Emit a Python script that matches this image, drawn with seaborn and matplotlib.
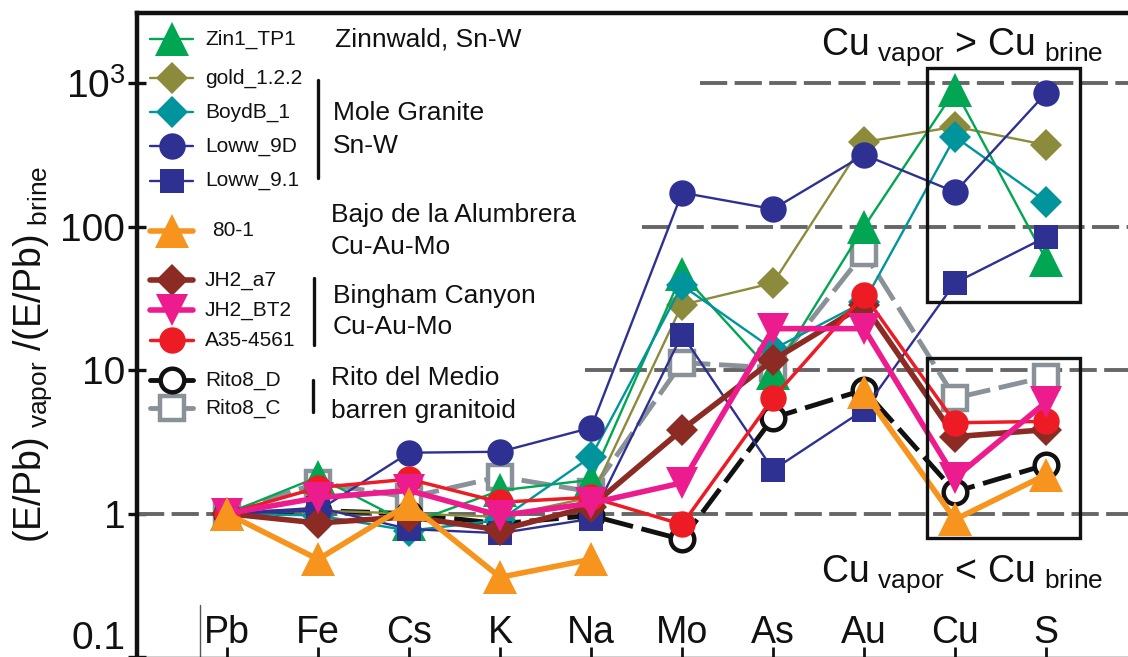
import numpy as np
import seaborn as sns
import matplotlib.pyplot as plt
from matplotlib.lines import Line2D
from matplotlib.patches import Rectangle
from matplotlib.ticker import NullLocator

elements = ['Pb', 'Fe', 'Cs', 'K', 'Na', 'Mo', 'As', 'Au', 'Cu', 'S']

zin1_tp1 = [1, 1.8, 0.85, 1.45, 1.72, 47, 9.5, 100, 900, 59]
gold_122 = [1, 1.05, 1.0, 0.95, 1.3, 28.6, 40.6, 390, 500, 372]
boydb_1 = [1, 0.97, 0.76, 0.9, 2.5, 39, 14, 30, 424, 150]
loww_9d = [1, 1.05, 2.66, 2.7, 3.97, 173, 133, 318, 175, 857]
loww_91 = [1, 1.1, 0.78, 0.73, 0.92, 17.7, 2.02, 5.3, 40.7, 85]
s80_1 = [1, 0.48, 1.17, 0.36, 0.48, np.nan, np.nan, 7.0, 0.91, 1.87]
jh2_a7 = [1, 0.86, 0.95, 0.77, 1.12, 3.85, 11.8, 28.6, 3.44, 3.85]
jh2_bt2 = [1, 1.29, 1.45, 0.97, 1.18, 1.64, 19.5, 19.5, 1.78, 6.0]
a35_4561 = [1, 1.52, 1.74, 1.2, 1.3, 0.84, 6.4, 33.5, 4.3, 4.4]
rito8_d = [1, 1.05, 1.0, 0.85, 0.97, 0.66, 4.66, 7.3, 1.42, 2.19]
rito8_c = [1, 1.64, 1.3, 1.81, 1.42, 11.3, 10.4, 66, 6.4, 9.0]

ref_levels = [1, 10, 100, 1000]

sns.set_style('ticks')
plt.rcParams['font.family'] = ['Liberation Sans', 'DejaVu Sans']
plt.rcParams['mathtext.default'] = 'regular'

W, H = 1128, 657
fig = plt.figure(figsize=(W / 100, H / 100), dpi=100)
ax = fig.add_axes([137 / W, 0.0, 1 - 137 / W, 1 - 13 / H])
ax.set_yscale('log')

# name, values, colour, marker, size, line width, open marker, dashed
styles = [
    ('Rito8_C', rito8_c, '#8a9299', 's', 17, 3.5, True, True),
    ('Rito8_D', rito8_d, '#111111', 'o', 17, 3.5, True, True),
    ('gold_1.2.2', gold_122, '#8c8b3b', 'D', 16, 1.7, False, False),
    ('Zin1_TP1', zin1_tp1, '#00a651', '^', 24, 1.7, False, False),
    ('BoydB_1', boydb_1, '#00959c', 'D', 16, 1.7, False, False),
    ('Loww_9D', loww_9d, '#2e3192', 'o', 19, 1.7, False, False),
    ('Loww_9.1', loww_91, '#2e3192', 's', 17, 1.7, False, False),
    ('JH2_a7', jh2_a7, '#8b2b24', 'D', 16, 4.0, False, False),
    ('A35-4561', a35_4561, '#ed1c24', 'o', 19, 2.5, False, False),
    ('JH2_BT2', jh2_bt2, '#ec1c8e', 'v', 23, 4.0, False, False),
    ('80-1', s80_1, '#f7941d', '^', 24, 4.0, False, False),
]

x = np.arange(len(elements))


def line_kws(color, marker, size, lw, hollow, dashed):
    kw = dict(color=color, linewidth=lw, marker=marker, markersize=size,
              markerfacecolor='white' if hollow else color,
              markeredgecolor=color,
              markeredgewidth=3.2 if hollow else 0)
    if dashed:
        kw['linestyle'] = (0, (6, 1.8))
    return kw


for z, (name, vals, color, marker, size, lw, hollow, dashed) in enumerate(styles):
    v = np.asarray(vals, float)
    idx = np.flatnonzero(~np.isnan(v))
    runs = np.split(idx, np.flatnonzero(np.diff(idx) > 1) + 1)
    for r in runs:
        sns.lineplot(x=x[r], y=v[r], ax=ax, estimator=None, sort=False,
                     zorder=3 + z, clip_on=False,
                     **line_kws(color, marker, size, lw, hollow, dashed))

# dashed reference levels
starts = [0.0, 0.452, 0.51, 0.568]
for lev, s in zip(ref_levels, starts):
    ax.axhline(lev, xmin=s, xmax=1, color='#666666', lw=2.8,
               linestyle=(0, (7, 1.9)), zorder=1)

# boxes around Cu and S
ax.add_patch(Rectangle((7.69, 30), 1.68, 1283 - 30, fill=False,
                       ec='#111111', lw=2.4, zorder=20))
ax.add_patch(Rectangle((7.69, 0.68), 1.68, 12.2 - 0.68, fill=False,
                       ec='#111111', lw=2.4, zorder=20))

ax.text(8.08, 1585, r'Cu$_{\ vapor}$ > Cu$_{\ brine}$', fontsize=27,
        ha='center', va='baseline', color='#111111')
ax.text(8.08, 0.336, r'Cu$_{\ vapor}$ < Cu$_{\ brine}$', fontsize=27,
        ha='center', va='baseline', color='#111111')

ax.set_xlim(-0.99, 9.9)
ax.set_ylim(0.1, 3100)
ax.set_xticks(x, elements)
ax.tick_params(axis='x', direction='in', length=7, width=2, pad=-30,
               labelsize=27, colors='#111111')
ax.set_yticks([0.1, 1, 10, 100, 1000], ['0.1', '1', '10', '100', r'$10^3$'])
ax.yaxis.set_minor_locator(NullLocator())
ax.tick_params(axis='y', direction='inout', length=13, width=2.4, pad=2,
               labelsize=28, colors='#111111')
ax.get_yticklabels()[0].set_verticalalignment('bottom')
ax.axvline(-0.3, ymax=0.08, color='#555555', lw=1)

ax.spines['right'].set_visible(False)
ax.spines['left'].set_linewidth(3.2)
ax.spines['top'].set_linewidth(3.2)
ax.spines['bottom'].set_linewidth(1.0)
for s in ax.spines.values():
    s.set_color('#111111')

ax.set_ylabel(r'(E/Pb)$_{\ vapor}$ /(E/Pb)$_{\ brine}$', fontsize=27,
              color='#111111')
ax.yaxis.set_label_coords(-0.084, 0.47)


def fxy(px, py):
    return px / W, 1 - py / H


# hand-placed legend
legend_rows = {'Zin1_TP1': 39, 'gold_1.2.2': 78, 'BoydB_1': 112,
               'Loww_9D': 146, 'Loww_9.1': 181, '80-1': 231, 'JH2_a7': 280,
               'JH2_BT2': 310, 'A35-4561': 340, 'Rito8_D': 380, 'Rito8_C': 408}
for name, vals, color, marker, size, lw, hollow, dashed in styles:
    py = legend_rows[name]
    kw = line_kws(color, marker, size, lw, hollow, False)
    x0, y0 = fxy(150, py)
    x1, _ = fxy(193, py)
    xm, _ = fxy(172, py)
    fig.add_artist(Line2D([x0, x1], [y0, y0], transform=fig.transFigure,
                          color=color, lw=lw, zorder=30))
    mk = {k: v for k, v in kw.items() if k.startswith('marker')}
    fig.add_artist(Line2D([xm], [y0], transform=fig.transFigure,
                          linestyle='none', zorder=31, **mk))
    tx, _ = fxy(212 if name == '80-1' else 205, py)
    fig.text(tx, y0, name, fontsize=15, va='center', ha='left',
             color='#111111', zorder=32)

groups = [('Zinnwald, Sn-W', 335, 40), ('Mole Granite', 333, 113),
          ('Sn-W', 333, 146), ('Bajo de la Alumbrera', 331, 215),
          ('Cu-Au-Mo', 331, 247), ('Bingham Canyon', 333, 296),
          ('Cu-Au-Mo', 333, 327), ('Rito del Medio', 331, 378),
          ('barren granitoid', 331, 411)]
for label, px, py in groups:
    gx, gy = fxy(px, py)
    fig.text(gx, gy, label, fontsize=19, va='center', ha='left',
             color='#111111')

for px, py0, py1 in [(318, 80, 178), (314, 278, 345), (313, 380, 412)]:
    bx, by0 = fxy(px, py0)
    _, by1 = fxy(px, py1)
    fig.add_artist(Line2D([bx, bx], [by0, by1], transform=fig.transFigure,
                          color='#111111', lw=2.4))

fig.savefig('out.png', dpi=100)
